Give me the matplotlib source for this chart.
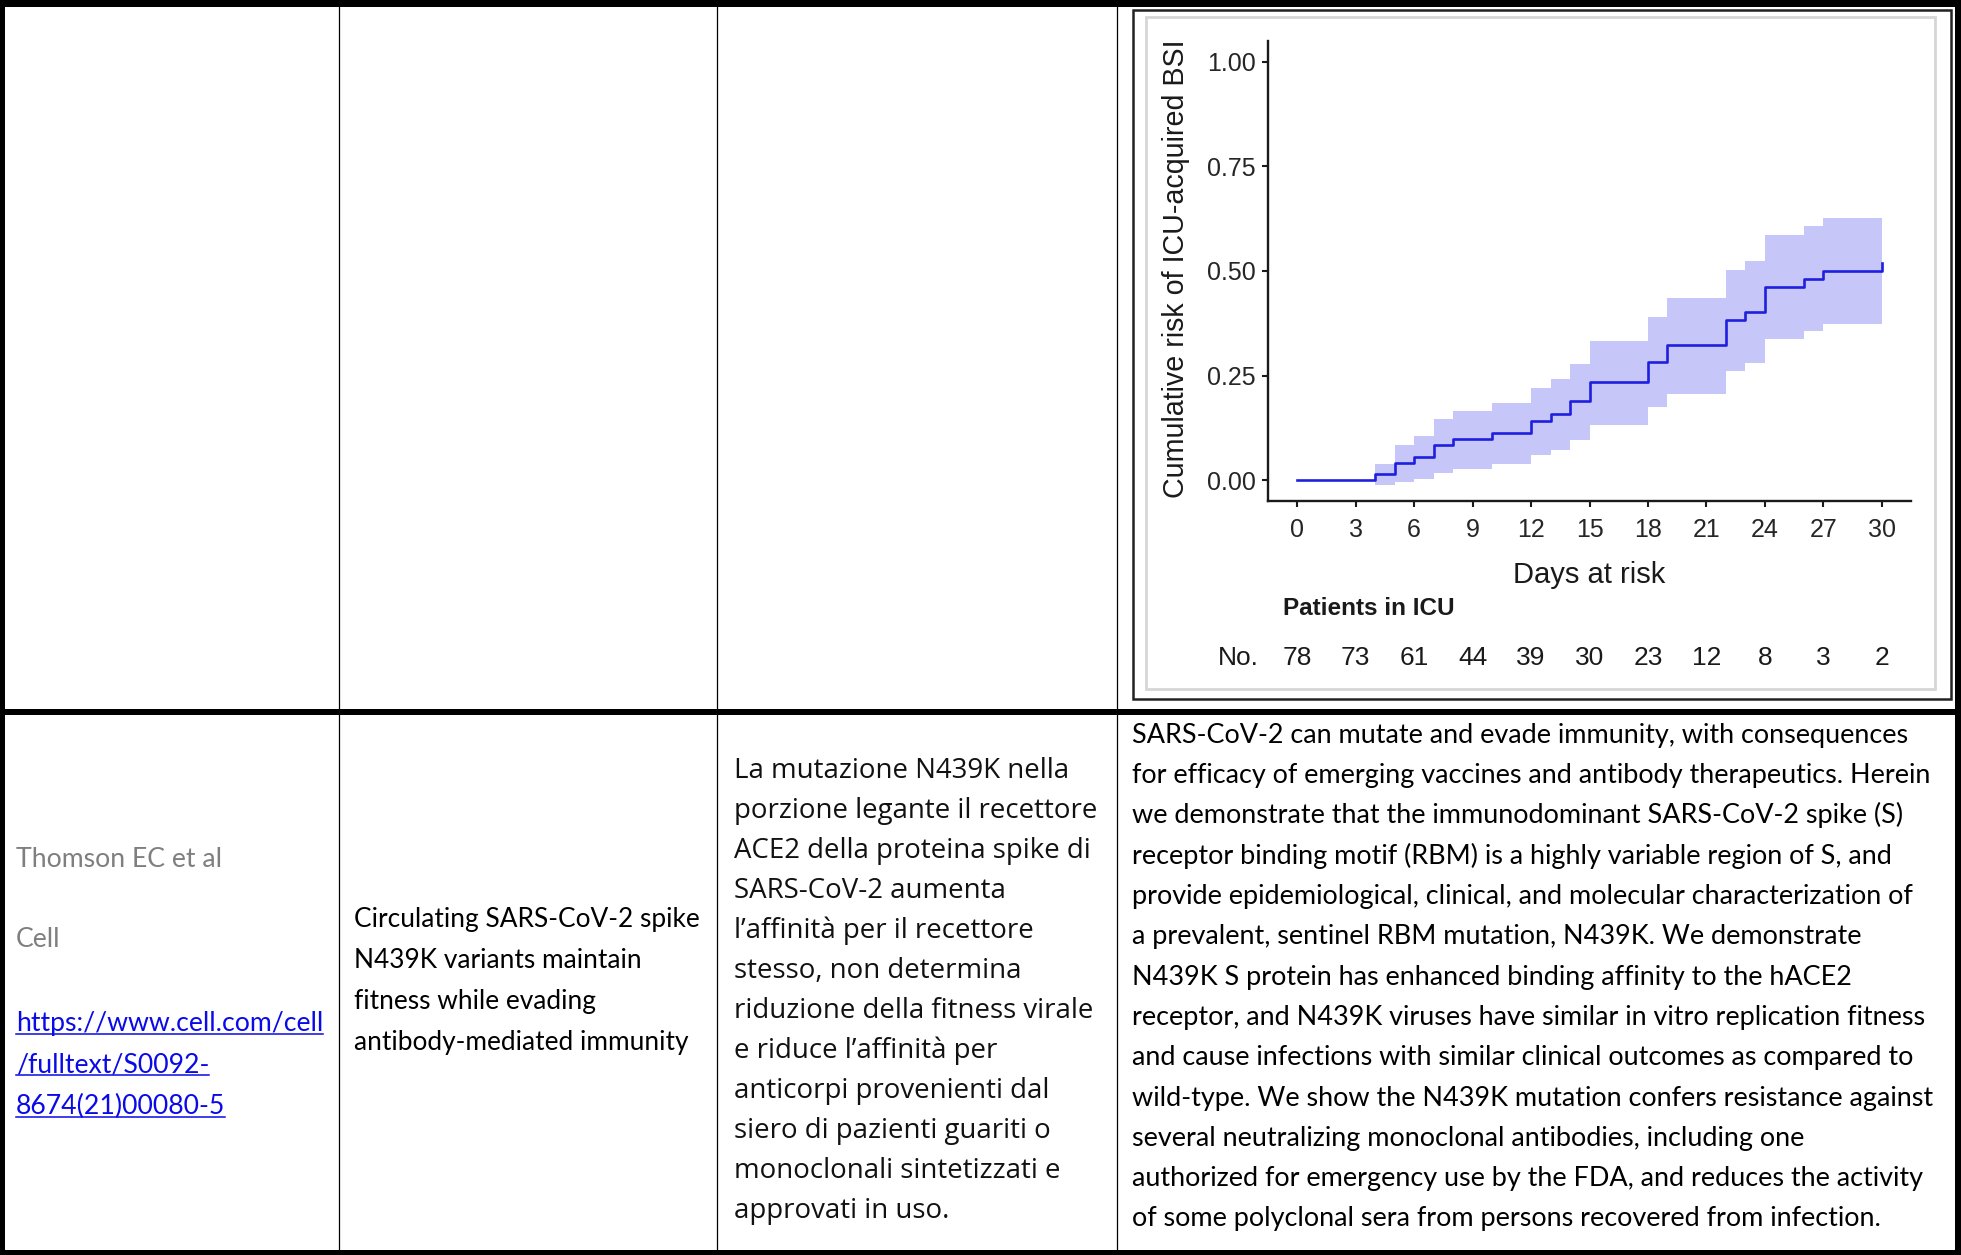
import matplotlib.pyplot as plt
from matplotlib.patches import Rectangle

# figure size in pixels (saved at dpi 100)
W, H = 1961, 1255

# chart data: cumulative risk of ICU-acquired BSI (step curve + ribbon)
days = [0, 4, 5, 6, 7, 8, 10, 12, 13, 14, 15, 18, 19, 22, 23, 24, 26, 27, 30]
risk = [0, 0.014, 0.041, 0.056, 0.083, 0.098, 0.113, 0.142, 0.157, 0.189,
        0.234, 0.283, 0.323, 0.383, 0.402, 0.461, 0.481, 0.501, 0.52]
upper = [0, 0.038, 0.083, 0.106, 0.145, 0.166, 0.185, 0.221, 0.241, 0.277,
         0.332, 0.391, 0.436, 0.503, 0.525, 0.587, 0.607, 0.627, 0.627]
lower = [0, -0.011, -0.005, 0.003, 0.018, 0.027, 0.038, 0.059, 0.072, 0.095,
         0.131, 0.175, 0.207, 0.261, 0.280, 0.338, 0.356, 0.374, 0.374]

x_ticks = [0, 3, 6, 9, 12, 15, 18, 21, 24, 27, 30]
y_ticks = [0, 0.25, 0.5, 0.75, 1.0]
y_tick_labels = ['0.00', '0.25', '0.50', '0.75', '1.00']
at_risk = [78, 73, 61, 44, 39, 30, 23, 12, 8, 3, 2]

# table text
author_lines = ['Thomson EC et al', 'Cell']
link_lines = ['https://www.cell.com/cell', '/fulltext/S0092-', '8674(21)00080-5']
title_lines = ['Circulating SARS-CoV-2 spike',
               'N439K variants maintain',
               'fitness while evading',
               'antibody-mediated immunity']
summary_lines = ['La mutazione N439K nella',
                 'porzione legante il recettore',
                 'ACE2 della proteina spike di',
                 'SARS-CoV-2 aumenta',
                 'l’affinità per il recettore',
                 'stesso, non determina',
                 'riduzione della fitness virale',
                 'e riduce l’affinità per',
                 'anticorpi provenienti dal',
                 'siero di pazienti guariti o',
                 'monoclonali sintetizzati e',
                 'approvati in uso.']
abstract_lines = ['SARS-CoV-2 can mutate and evade immunity, with consequences',
                  'for efficacy of emerging vaccines and antibody therapeutics. Herein',
                  'we demonstrate that the immunodominant SARS-CoV-2 spike (S)',
                  'receptor binding motif (RBM) is a highly variable region of S, and',
                  'provide epidemiological, clinical, and molecular characterization of',
                  'a prevalent, sentinel RBM mutation, N439K. We demonstrate',
                  'N439K S protein has enhanced binding affinity to the hACE2',
                  'receptor, and N439K viruses have similar in vitro replication fitness',
                  'and cause infections with similar clinical outcomes as compared to',
                  'wild-type. We show the N439K mutation confers resistance against',
                  'several neutralizing monoclonal antibodies, including one',
                  'authorized for emergency use by the FDA, and reduces the activity',
                  'of some polyclonal sera from persons recovered from infection.']

fig = plt.figure(figsize=(W / 100, H / 100), dpi=100)
bg = fig.add_axes([0, 0, 1, 1])
bg.set_xlim(0, W)
bg.set_ylim(H, 0)
bg.axis('off')
renderer = fig.canvas.get_renderer()

# table borders (pixel layout)
for x, y, w, h in [(0, 0, W, 7), (0, 0, 5, H), (W - 6, 0, 6, H),
                   (0, H - 5, W, 5), (0, 709, W, 6)]:
    bg.add_patch(Rectangle((x, y), w, h, color='black', lw=0))
for x in [338.5, 716.5, 1116.5]:
    bg.plot([x, x], [0, H], color='black', lw=0.9)

# frame of the pasted chart picture
bg.add_patch(Rectangle((1133, 10), 818, 689, fill=False, ec='#222222', lw=1.8))
bg.add_patch(Rectangle((1146, 17), 789, 672, fill=False, ec='#d6d6d6', lw=2))


def fit_size(text, family, width_px, weight='normal'):
    t = bg.text(0, 0, text, fontsize=20, family=family, weight=weight)
    w = t.get_window_extent(renderer).width
    t.remove()
    return 20 * width_px / w


def put_lines(lines, x, y0, step, size, family, color='black', weight='normal'):
    off = size / 72 * 100 * 0.33
    out = []
    for i, line in enumerate(lines):
        t = bg.text(x, y0 + i * step + off, line, fontsize=size, family=family,
                    color=color, weight=weight, va='baseline', ha='left')
        out.append((t, y0 + i * step + off))
    return out


body = ['Lato', 'DejaVu Sans']
it_font = ['Open Sans', 'DejaVu Sans']

# column 1: reference
fs_link = fit_size(link_lines[0], body, 307)
put_lines(author_lines, 16, 858, 80, fs_link, body, color='#7f7f7f')
for t, base in put_lines(link_lines, 16, 1022, 41.5, fs_link, body,
                         color='#0a0ae8'):
    bb = t.get_window_extent(renderer)
    bg.plot([bb.x0, bb.x1], [base + 3, base + 3], color='#0a0ae8', lw=1.1)

# column 2: title
fs_title = fit_size(title_lines[0], body, 345)
put_lines(title_lines, 354, 918, 41.2, fs_title, body)

# column 3: Italian summary
fs_it = fit_size(summary_lines[1], it_font, 363)
put_lines(summary_lines, 734, 769, 40, fs_it, it_font, color='#111111')

# column 4: abstract
fs_abs = fit_size(abstract_lines[1], body, 801)
put_lines(abstract_lines, 1132, 734, 40.3, fs_abs, body)

# chart
chart_font = ['Liberation Sans', 'DejaVu Sans']
ax = fig.add_axes([1268 / W, 1 - 501 / H, 643 / W, 460 / H])
ax.fill_between(days, lower, upper, step='post', color='#c6c6f9', lw=0)
ax.step(days, risk, where='post', color='#1f1fe0', lw=1.9)
ax.set_xlim(-1.5, 31.5)
ax.set_ylim(-0.05, 1.05)
ax.set_xticks(x_ticks)
ax.set_yticks(y_ticks)
ax.set_yticklabels(y_tick_labels)
for s in ['top', 'right']:
    ax.spines[s].set_visible(False)
for s in ['left', 'bottom']:
    ax.spines[s].set_linewidth(1.7)
    ax.spines[s].set_color('#1a1a1a')
ax.tick_params(length=4, width=1.5, color='#1a1a1a', labelsize=18,
               labelcolor='#262626')
ax.tick_params(axis='x', pad=8)
ax.tick_params(axis='y', pad=5)
for lab in ax.get_xticklabels() + ax.get_yticklabels():
    lab.set_family(chart_font)

ax.set_xlabel('Days at risk', fontsize=21, family=chart_font, color='#1a1a1a')
ax.xaxis.set_label_coords(0.5, -0.161)
ax.xaxis.label.set_va('center')
ax.set_ylabel('Cumulative risk of ICU-acquired BSI', fontsize=20.6,
              family=chart_font, color='#1a1a1a')
ax.yaxis.set_label_coords(-0.143, 0.505)
ax.yaxis.label.set_va('center')

tr = ax.get_xaxis_transform()
ax.text(-0.75, -0.233, 'Patients in ICU', transform=tr, fontsize=17.5,
        weight='bold', family=chart_font, color='#1a1a1a', ha='left',
        va='center', clip_on=False)
ax.text(-1.95, -0.341, 'No.', transform=tr, fontsize=19, family=chart_font,
        color='#1a1a1a', ha='right', va='center', clip_on=False)
for d, n in zip(x_ticks, at_risk):
    ax.text(d, -0.341, str(n), transform=tr, fontsize=19, family=chart_font,
            color='#1a1a1a', ha='center', va='center', clip_on=False)

fig.savefig('out.png', dpi=100)
